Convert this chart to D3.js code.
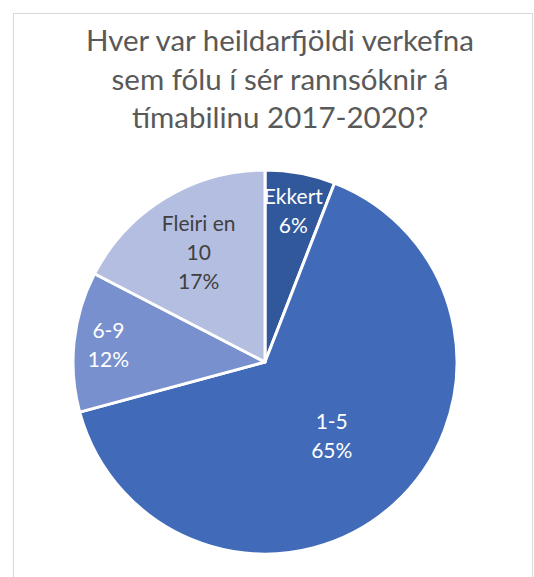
<!DOCTYPE html>
<html>
<head>
<meta charset="utf-8">
<script src="https://cdn.jsdelivr.net/npm/d3@7"></script>
<style>
  html, body { margin: 0; padding: 0; background: #fff; }
  svg { display: block; font-family: Lato, "Open Sans", sans-serif; }
</style>
</head>
<body>
<svg id="chart" width="534" height="577"></svg>
<script>
// data (slice sizes estimated from the angles)
const categories = ['Ekkert', '1-5', '6-9', 'Fleiri en 10'];
const shares = [5.9, 64.9, 11.8, 17.4];
const nameLines = [['Ekkert'], ['1-5'], ['6-9'], ['Fleiri en', '10']];
const titleLines = ['Hver var heildarfjöldi verkefna', 'sem fólu í sér rannsóknir á', 'tímabilinu 2017-2020?'];

const colors = ['#31589a', '#416bb8', '#7990cf', '#b4bee0'];
const labelColors = ['#ffffff', '#ffffff', '#ffffff', '#404040'];
// where each label sits, as a fraction of the radius (best-fit like)
const labelRadius = [0.80, 0.52, 0.82, 0.665];

const dims = { width: 534, height: 577, cx: 265, cy: 362, r: 192 };

const svg = d3.select('#chart');

// chart frame
svg.append('rect')
  .attr('x', 13.5).attr('y', 13.5)
  .attr('width', 519).attr('height', 600)
  .attr('fill', '#fff')
  .attr('stroke', '#d9d9d9')
  .attr('stroke-width', 1);

// title
svg.append('text')
  .attr('text-anchor', 'middle')
  .attr('fill', '#595959')
  .attr('font-size', 29.5)
  .selectAll('tspan')
  .data(titleLines)
  .join('tspan')
  .attr('x', 280)
  .attr('y', (d, i) => 51 + i * 38.5)
  .text(d => d);

const total = d3.sum(shares);
const pie = d3.pie().sort(null).value(d => d);
const arcs = pie(shares);

const arc = d3.arc().innerRadius(0).outerRadius(dims.r);

const g = svg.append('g').attr('transform', `translate(${dims.cx},${dims.cy})`);

g.selectAll('path')
  .data(arcs)
  .join('path')
  .attr('d', arc)
  .attr('fill', (d, i) => colors[i])
  .attr('stroke', '#fff')
  .attr('stroke-width', 3)
  .attr('stroke-linejoin', 'round');

const lineH = 29;
g.selectAll('text.lbl')
  .data(arcs)
  .join('text')
  .attr('class', 'lbl')
  .attr('text-anchor', 'middle')
  .attr('font-size', 21)
  .attr('fill', (d, i) => labelColors[i])
  .each(function (d, i) {
    const lr = dims.r * labelRadius[i];
    const c = d3.arc().innerRadius(lr).outerRadius(lr).centroid(d);
    const lines = nameLines[i].concat([Math.round(d.value / total * 100) + '%']);
    const top = c[1] - (lines.length - 1) * lineH / 2;
    d3.select(this).selectAll('tspan')
      .data(lines)
      .join('tspan')
      .attr('x', c[0])
      .attr('y', (t, j) => top + j * lineH)
      .attr('dy', '0.35em')
      .text(t => t);
  });
</script>
</body>
</html>
